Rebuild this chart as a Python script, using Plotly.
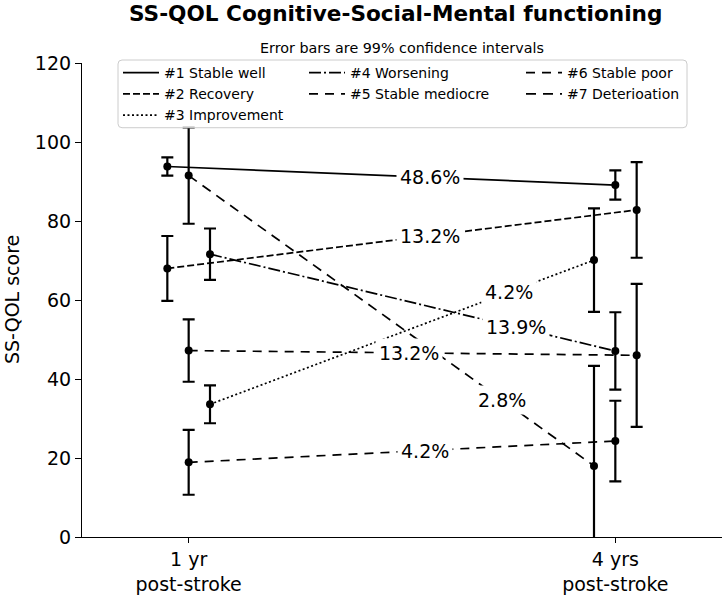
import plotly.graph_objects as go

# ---------------- data ----------------
series_names = ['#1 Stable well', '#2 Recovery', '#3 Improvement', '#4 Worsening',
                '#5 Stable mediocre', '#6 Stable poor', '#7 Deterioation']
mean_1yr = [93.8, 68.0, 33.6, 71.6, 47.2, 18.9, 91.5]
ci_1yr = [2.3, 8.2, 4.8, 6.5, 7.9, 8.2, 12.2]
mean_4yr = [89.1, 82.8, 70.1, 47.1, 46.0, 24.3, 18.0]
ci_4yr = [3.7, 12.1, 13.1, 9.8, 18.1, 10.2, 25.3]
timepoints = [1, 4]
tick_labels = ['1 yr<br>post-stroke', '4 yrs<br>post-stroke']
jitter_1yr = [-0.15, -0.15, 0.15, 0.15, 0.0, 0.0, 0.0]
jitter_4yr = [0.0, 0.15, -0.15, 0.0, 0.15, 0.0, -0.15]
pct_labels = ['48.6%', '13.2%', '4.2%', '13.9%', '13.2%', '4.2%', '2.8%']
pct_label_x = [2.70, 2.70, 3.25, 3.30, 2.55, 2.66, 3.20]

# ---------------- styles ----------------
dashes = ['solid', '7px,3px', '2px,2.5px', '12px,3px,2px,3px', '9px,7px', '9px,7px', '10px,7px']
legend_of = ['legend', 'legend', 'legend', 'legend2', 'legend2', 'legend3', 'legend3']
FONT = 'DejaVu Sans'

W, H = 724, 597
L, R, T, B = 82, 2, 63, 58
PW, PH = W - L - R, H - T - B


def px_x(px):
    return (px - L) / PW


def px_y(py):
    return (H - B - py) / PH


fig = go.Figure()

for i, name in enumerate(series_names):
    xs = [timepoints[0] + jitter_1yr[i], timepoints[1] + jitter_4yr[i]]
    ys = [mean_1yr[i], mean_4yr[i]]
    fig.add_trace(go.Scatter(
        x=xs, y=ys, mode='lines+markers', showlegend=False,
        line=dict(color='black', width=1.7, dash=dashes[i]),
        marker=dict(color='black', size=8),
        error_y=dict(type='data', array=[ci_1yr[i], ci_4yr[i]], symmetric=True,
                     color='black', thickness=2.2, width=6),
    ))
    # percentage label placed on the line
    lx = pct_label_x[i]
    ly = ys[0] + (ys[1] - ys[0]) * (lx - xs[0]) / (xs[1] - xs[0])
    fig.add_annotation(x=lx, y=ly, text=pct_labels[i], showarrow=False,
                       xanchor='center', yanchor='middle', bgcolor='white',
                       borderpad=3, font=dict(family=FONT, size=19, color='black'))

# legend-only traces
for i, name in enumerate(series_names):
    fig.add_trace(go.Scatter(
        x=[None], y=[None], mode='lines', name=name, legend=legend_of[i],
        line=dict(color='black', width=1.7, dash=dashes[i]),
    ))

# legend frame (rounded, semi-transparent white)
x0, x1 = px_x(118), px_x(687)
y0, y1 = px_y(128), px_y(60)
rx, ry = 4 / PW, 4 / PH
path = (f"M {x0+rx},{y1} L {x1-rx},{y1} Q {x1},{y1} {x1},{y1-ry} "
        f"L {x1},{y0+ry} Q {x1},{y0} {x1-rx},{y0} L {x0+rx},{y0} "
        f"Q {x0},{y0} {x0},{y0+ry} L {x0},{y1-ry} Q {x0},{y1} {x0+rx},{y1} Z")
fig.add_shape(type='path', path=path, xref='paper', yref='paper',
              fillcolor='rgba(255,255,255,0.8)', line=dict(color='#cccccc', width=1),
              layer='above')

leg_common = dict(orientation='v', bgcolor='rgba(0,0,0,0)', borderwidth=0,
                  font=dict(family=FONT, size=14, color='black'),
                  itemwidth=36, xanchor='left', yanchor='top', tracegroupgap=0)
leg_top = px_y(57)

fig.update_layout(
    width=W, height=H,
    margin=dict(l=L, r=R, t=T, b=B),
    paper_bgcolor='white', plot_bgcolor='white',
    font=dict(family=FONT, color='black'),
    showlegend=True,
    legend=dict(x=px_x(118), y=leg_top, **leg_common),
    legend2=dict(x=px_x(304), y=leg_top, **leg_common),
    legend3=dict(x=px_x(521), y=leg_top, **leg_common),
    xaxis=dict(range=[0.25, 4.75], tickvals=timepoints, ticktext=tick_labels,
               ticks='outside', ticklen=5, tickwidth=1.2, tickcolor='black',
               showline=True, linecolor='black', linewidth=1.2,
               showgrid=False, zeroline=False,
               tickfont=dict(family=FONT, size=19, color='black')),
    yaxis=dict(range=[0, 120], tick0=0, dtick=20,
               ticks='outside', ticklen=6, tickwidth=1.2, tickcolor='black',
               showline=True, linecolor='black', linewidth=1.2,
               showgrid=False, zeroline=False,
               tickfont=dict(family=FONT, size=19, color='black')),
)

# titles
fig.add_annotation(text='<b>SS-QOL Cognitive-Social-Mental functioning</b>',
                   xref='paper', yref='paper', x=px_x(395), y=px_y(13),
                   xanchor='center', yanchor='middle', showarrow=False,
                   font=dict(family=FONT, size=21.6, color='black'))
fig.add_annotation(text='Error bars are 99% confidence intervals',
                   xref='paper', yref='paper', x=0.5, y=px_y(47.5),
                   xanchor='center', yanchor='middle', showarrow=False,
                   font=dict(family=FONT, size=14.3, color='black'))
fig.add_annotation(text='SS-QOL score', textangle=-90,
                   xref='paper', yref='paper', x=px_x(12), y=0.5,
                   xanchor='center', yanchor='middle', showarrow=False,
                   font=dict(family=FONT, size=19, color='black'))

fig.write_html('out.html', config=dict(displayModeBar=False),
               post_script="document.body.style.margin='0px';document.body.style.padding='0px';")
